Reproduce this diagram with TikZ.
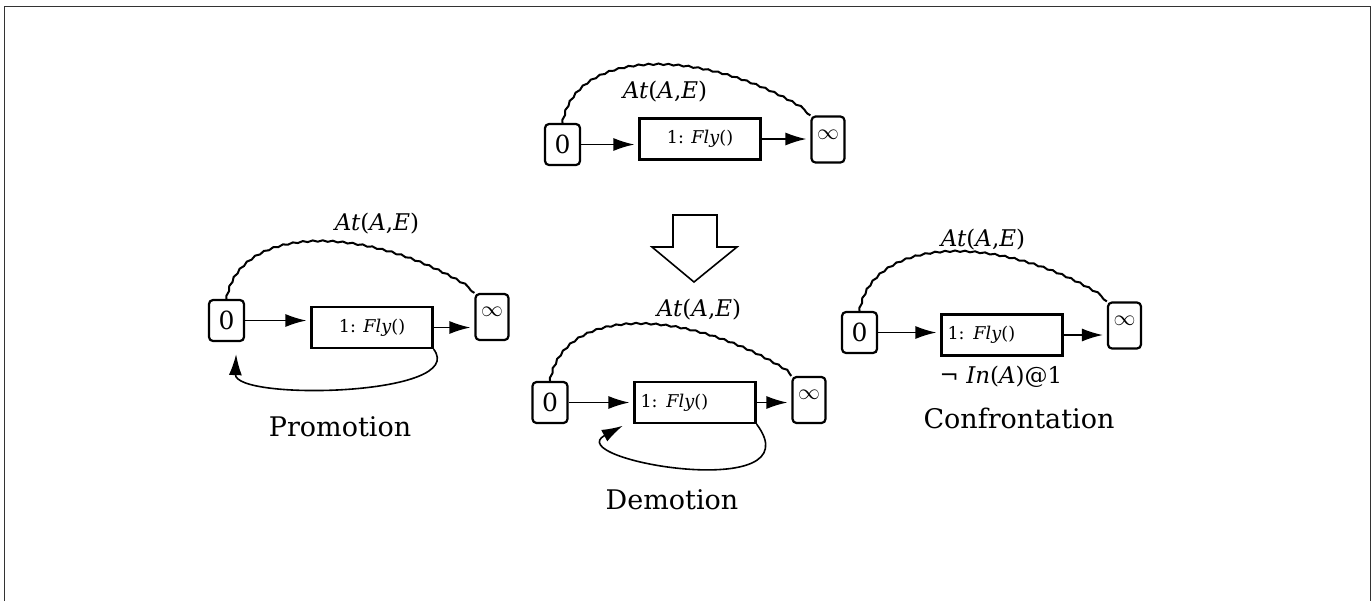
\documentclass[tikz,border=0pt]{standalone}
\usepackage{fontspec}
\setmainfont{DejaVu Serif}
\usetikzlibrary{arrows.meta,decorations.pathmorphing}

\begin{document}
\begin{tikzpicture}[x=0.5pt,y=-0.5pt,
	endpt/.style={draw,line width=1.1pt,rounded corners=2pt,inner sep=0pt,minimum width=17.5pt,minimum height=20.5pt,font=\fontsize{12.5}{12.5}\selectfont},
	endinf/.style={endpt,minimum width=16.5pt,minimum height=23pt,font=\fontsize{11}{11}\selectfont},
	act/.style={draw,line width=1.1pt,inner sep=0pt,minimum width=60.5pt,minimum height=20.5pt,font=\fontsize{8.8}{9}\selectfont},
	actl/.style={act,text width=54.5pt,inner xsep=3pt,align=left},
	link/.style={line width=1pt,decorate,decoration={snake,amplitude=0.35pt,segment length=5pt}},
	order/.style={-{Latex[length=10.5pt,width=6.5pt]},line width=0.8pt,shorten >=2pt},
	lbl/.style={font=\fontsize{11.5}{12}\selectfont},
	caption/.style={font=\fontsize{13.5}{14}\selectfont}]
	\useasboundingbox (0,0) rectangle (1372,601);
	\draw[black!80,line width=0.75pt] (4.5,601) -- (4.5,6.7) -- (1370.5,6.7) -- (1370.5,601);

	% initial plan
	\node[endpt] (0a) at (562.5,144.5) {0};
	\node[act] (1a) at (700,139) {1: \textit{Fly}()};
	\node[endinf] (ia) at (828,139.5) {\raisebox{5pt}{$\infty$}};
	\path[order]
	(0a.east) edge (0a.east -| 1a.west)
	(1a.east) edge (1a.east -| ia.west);
	\draw[link] (0a.north) .. controls +(15,-75) and +(-100,-65) .. (ia.north west);
	\node[lbl] (la) at (665,92) {\textit{At}(\textit{A},\textit{E})};

	% hollow arrow
	\draw[line width=0.8pt,fill=white] (673,215) -- (717,215) -- (717,247) -- (737,247)
	-- (694,282) -- (652,247) -- (673,247) -- cycle;

	% promotion
	\node[endpt] (0b) at (226.5,320.5) {0};
	\node[act] (1b) at (372,327.5) {1: \textit{Fly}()};
	\node[endinf] (ib) at (492,317) {\raisebox{5pt}{$\infty$}};
	\path[order]
	(0b.east) edge (0b.east -| 1b.west)
	(1b.east) edge (1b.east -| ib.west);
	\draw[link] (0b.north) .. controls +(15,-75) and +(-100,-65) .. (ib.north west);
	\draw[order,shorten >=6pt] (1b.south east) .. controls +(36,47) and +(-2,59) .. ([xshift=5pt]0b.south);
	\node[lbl] (lb) at (377,224) {\textit{At}(\textit{A},\textit{E})};
	\node[caption] (pb) at (340,427) {Promotion};

	% demotion
	\node[endpt] (0c) at (550,402.5) {0};
	\node[actl] (1c) at (695,402.5) {1: \textit{Fly}()};
	\node[endinf] (ic) at (809,400) {\raisebox{5pt}{$\infty$}};
	\path[order]
	(0c.east) edge (0c.east -| 1c.west)
	(1c.east) edge (1c.east -| ic.west);
	\draw[link] (0c.north) .. controls +(15,-75) and +(-100,-65) .. (ic.north west);
	\draw[order,shorten >=6pt] (1c.south east) .. controls +(60,80) and +(-75,40) .. ([yshift=2pt]1c.south west);
	\node[lbl] (lc) at (699,310) {\textit{At}(\textit{A},\textit{E})};
	\node[caption] (pc) at (672,500) {Demotion};

	% confrontation
	\node[endpt] (0d) at (859.5,332.5) {0};
	\node[actl] (1d) at (1002,335) {1: \textit{Fly}()};
	\node[endinf] (id) at (1124.5,325.5) {\raisebox{5pt}{$\infty$}};
	\path[order]
	(0d.east) edge (0d.east -| 1d.west)
	(1d.east) edge (1d.east -| id.west);
	\draw[link] (0d.north) .. controls +(15,-75) and +(-100,-65) .. (id.north west);
	\node[lbl] (ld) at (983,240) {\textit{At}(\textit{A},\textit{E})};
	\node[lbl] (nd) at (1001,377) {¬ \textit{In}(\textit{A})@1};
	\node[caption] (pd) at (1019,418) {Confrontation};
\end{tikzpicture}
\end{document}
